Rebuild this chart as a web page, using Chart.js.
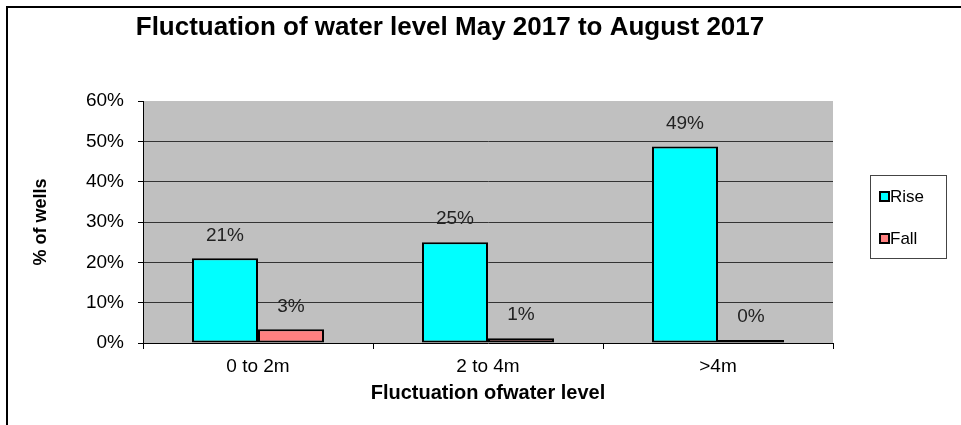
<!DOCTYPE html>
<html>
<head>
<meta charset="utf-8">
<script src="https://cdn.jsdelivr.net/npm/chart.js@4.4.1/dist/chart.umd.min.js"></script>
<style>
  html, body { margin: 0; padding: 0; background: #fff; }
  #wrap { position: relative; width: 961px; height: 425px; }
</style>
</head>
<body>
<div id="wrap"><canvas id="c" width="961" height="425"></canvas></div>
<script>
// datos
const categories = ['0 to 2m', '2 to 4m', '>4m'];
const riseValues = [21, 25, 48.7];
const fallValues = [3.4, 1.2, 0.4];
const yTicks = [0, 10, 20, 30, 40, 50, 60];
const chartTitle = 'Fluctuation of water level May 2017 to August 2017';
const xTitle = 'Fluctuation ofwater level';
const yTitle = '% of wells';

const FONT = "'Liberation Sans', Arial, sans-serif";

// fondo gris del área de trazado + marco exterior
const plotBg = {
  id: 'plotBg',
  beforeDraw(chart) {
    const { ctx, chartArea: a } = chart;
    ctx.save();
    ctx.fillStyle = '#C0C0C0';
    ctx.fillRect(a.left, a.top, a.right - a.left, a.bottom - a.top);
    ctx.strokeStyle = '#000';
    ctx.lineWidth = 2;
    ctx.beginPath();
    ctx.moveTo(7, 425); ctx.lineTo(7, 7); ctx.lineTo(961, 7);
    ctx.stroke();
    ctx.restore();
  },
};

// etiquetas de valor encima de cada barra
const valueLabels = {
  id: 'valueLabels',
  afterDatasetsDraw(chart) {
    const { ctx } = chart;
    ctx.save();
    ctx.font = '19px ' + FONT;
    ctx.fillStyle = '#222';
    ctx.textAlign = 'center';
    ctx.textBaseline = 'middle';
    chart.data.datasets.forEach((ds, i) => {
      chart.getDatasetMeta(i).data.forEach((bar, j) => {
        ctx.fillText(Math.round(ds.data[j]) + '%', bar.x, Math.min(bar.y, bar.base) - 23);
      });
    });
    ctx.restore();
  },
};

// título y leyenda con marco, estilo Excel
const decor = {
  id: 'decor',
  afterDraw(chart) {
    const { ctx } = chart;
    ctx.save();
    ctx.fillStyle = '#000';
    ctx.font = 'bold 26px ' + FONT;
    ctx.textAlign = 'center';
    ctx.textBaseline = 'middle';
    ctx.fillText(chartTitle, 450, 28);

    // leyenda
    ctx.strokeStyle = '#444';
    ctx.lineWidth = 1;
    ctx.strokeRect(870.5, 175.5, 76, 83);
    ctx.font = '17px ' + FONT;
    ctx.textAlign = 'left';
    chart.data.datasets.forEach((ds, i) => {
      const y = 196 + i * 42;
      ctx.fillStyle = ds.backgroundColor;
      ctx.fillRect(880, y - 4, 9, 9);
      ctx.lineWidth = 2;
      ctx.strokeStyle = '#000';
      ctx.strokeRect(880, y - 4, 9, 9);
      ctx.fillStyle = '#000';
      ctx.fillText(ds.label, 890, y + 1);
    });
    ctx.restore();
  },
};

new Chart(document.getElementById('c'), {
  type: 'bar',
  data: {
    labels: categories,
    datasets: [
      { label: 'Rise', data: riseValues, backgroundColor: '#00FFFF', borderColor: '#000', borderWidth: 2, borderSkipped: false },
      { label: 'Fall', data: fallValues, backgroundColor: '#FF8080', borderColor: '#000', borderWidth: 2, borderSkipped: false, minBarLength: 3 },
    ],
  },
  options: {
    responsive: false,
    animation: false,
    devicePixelRatio: 1,
    layout: { padding: { left: 0, top: 101, right: 128, bottom: 0 } },
    datasets: { bar: { categoryPercentage: 0.574, barPercentage: 1 } },
    plugins: { legend: { display: false }, title: { display: false }, tooltip: { enabled: false } },
    scales: {
      x: {
        grid: { drawOnChartArea: false, color: '#000', tickLength: 6, offset: true },
        border: { color: '#000', width: 1 },
        ticks: { color: '#000', font: { family: FONT, size: 19 }, padding: 6 },
        title: { display: true, text: xTitle, color: '#000', font: { family: FONT, size: 20, weight: 'bold' }, padding: { top: 0, bottom: 20 } },
        afterFit: (s) => { s.height = 82; },
      },
      y: {
        min: 0, max: 60,
        afterBuildTicks: (s) => { s.ticks = yTicks.map((v) => ({ value: v })); },
        grid: {
          color: (c) => (c.tick && (c.tick.value === 60 || c.tick.value === 0) ? 'rgba(0,0,0,0)' : '#333'),
          tickColor: '#000', tickLength: 5, lineWidth: 1,
        },
        border: { color: '#000', width: 1 },
        ticks: { color: '#000', font: { family: FONT, size: 19 }, padding: 14, callback: (v) => v + '%' },
        title: { display: true, text: yTitle, color: '#000', font: { family: FONT, size: 18, weight: 'bold' }, padding: { top: 30, bottom: 0 } },
        afterFit: (s) => { s.width = 143; },
      },
    },
  },
  plugins: [plotBg, valueLabels, decor],
});
</script>
</body>
</html>
